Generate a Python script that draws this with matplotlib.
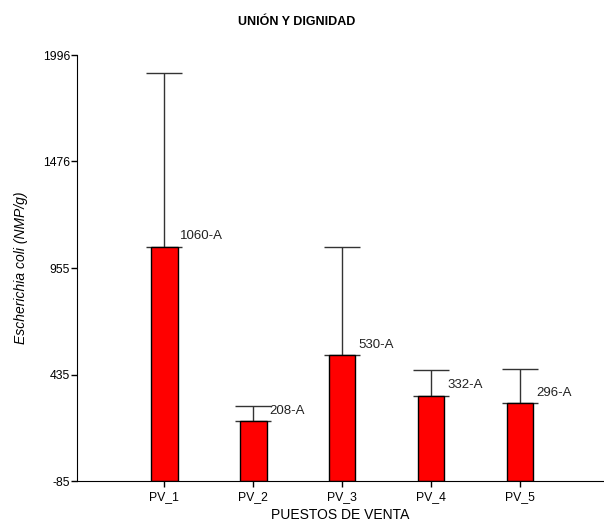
import numpy as np
import matplotlib
matplotlib.use('Agg')
import matplotlib.pyplot as plt

plt.rcParams['font.family'] = ['Liberation Sans', 'DejaVu Sans']

# datos
puestos = ['PV_1', 'PV_2', 'PV_3', 'PV_4', 'PV_5']
medias = [1060, 208, 530, 332, 296]
error_sup = [848, 73, 528, 125, 166]
etiquetas = ['1060-A', '208-A', '530-A', '332-A', '296-A']
yticks = [-85, 435, 955, 1476, 1996]
base = -85

fig = plt.figure(figsize=(6.04, 5.24), dpi=100)
ax = fig.add_axes([0.1275, 0.082, 0.8705, 0.813])

x = np.arange(1, len(puestos) + 1)
alturas = [m - base for m in medias]
ax.bar(x, alturas, bottom=base, width=0.3, color='#ff0000', edgecolor='black',
       linewidth=1, zorder=2)
ax.errorbar(x, medias, yerr=[np.zeros(len(x)), error_sup], fmt='none',
            ecolor='#333333', elinewidth=1, capsize=13, capthick=1, zorder=1)

for xi, m, t in zip(x, medias, etiquetas):
    ax.annotate(t, (xi + 0.15, m), xytext=(2, 3), textcoords='offset points',
                ha='left', va='bottom', fontsize=9.5, color='#222222')

ax.set_xlim(0.02, 5.93)
ax.set_ylim(-85, 1996)
ax.set_yticks(yticks)
ax.set_yticklabels([str(v) for v in yticks])
ax.set_xticks(x)
ax.set_xticklabels(puestos)
ax.tick_params(axis='both', labelsize=8.8, direction='out', length=4, width=1, colors='black')
ax.tick_params(axis='y', pad=1)

ax.spines['top'].set_visible(False)
ax.spines['right'].set_visible(False)

ax.set_ylabel('Escherichia coli (NMP/g)', fontsize=10, style='italic', labelpad=11)
ax.set_xlabel('PUESTOS DE VENTA', fontsize=10, labelpad=3)
fig.text(0.492, 0.958, 'UNIÓN Y DIGNIDAD', ha='center', va='center',
         fontsize=9, fontweight='bold')

fig.savefig('out.png', dpi=100)
